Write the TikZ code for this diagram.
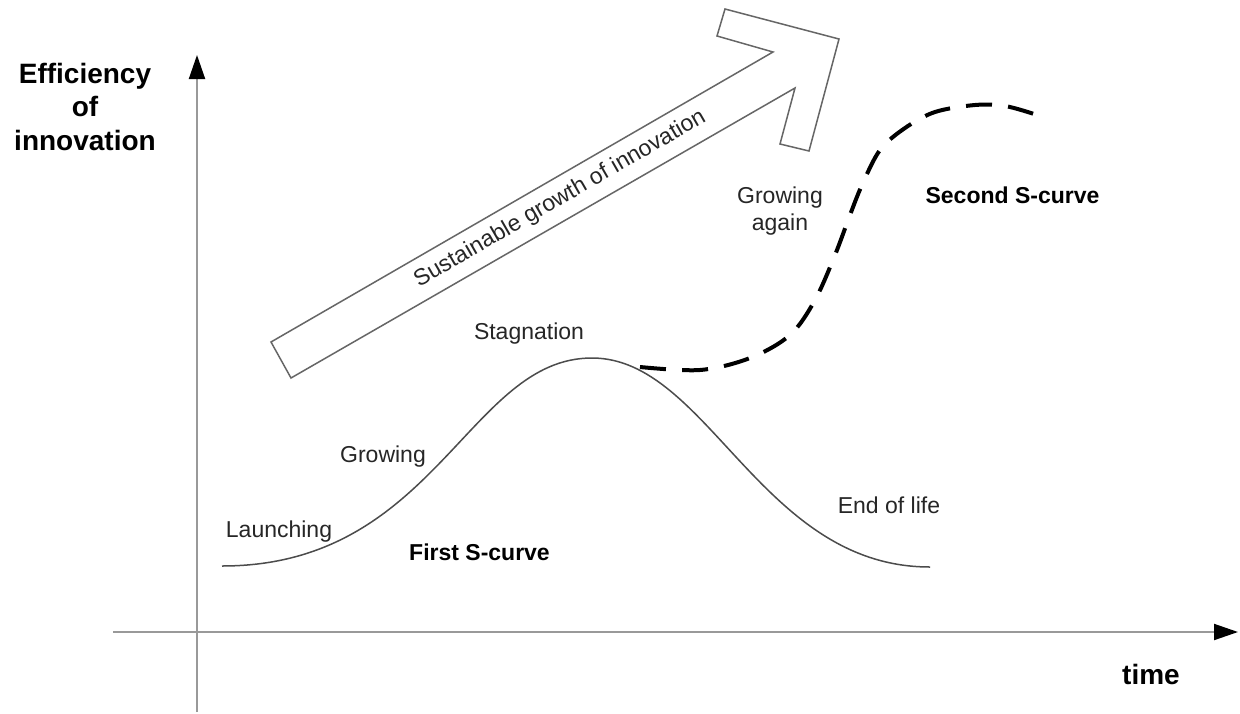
\documentclass[tikz,border=0pt]{standalone}
\usepackage{fontspec}
\setmainfont{Liberation Sans}
\usetikzlibrary{arrows.meta}
\begin{document}
\begin{tikzpicture}[x=1pt,y=-1pt,
  lbl/.style={inner sep=0pt, font=\fontsize{23}{27}\selectfont, text=black!85},
  blbl/.style={inner sep=0pt, font=\fontsize{23}{27}\selectfont\bfseries, text=black},
  axlbl/.style={inner sep=0pt, font=\fontsize{28}{33.5}\selectfont\bfseries, text=black},
  axisline/.style={draw=black!40, line width=2pt, -{Triangle[length=24pt,width=16pt,color=black]}},
  bigarrow/.style={draw=black!60, line width=1.5pt, line join=miter, fill=white},
  firstcurve/.style={draw=black!70, line width=1.5pt},
  secondcurve/.style={draw=black, line width=4pt, dash pattern=on 26pt off 16.2pt}
]
\useasboundingbox (0,0) rectangle (1240,713);
\fill[white] (0,0) rectangle (1240,713);

% axes
\coordinate (ybot) at (197,712);
\coordinate (ytop) at (197,55);
\coordinate (xleft) at (113,632);
\coordinate (xright) at (1238,632);
\draw[axisline] (ybot) -- (ytop);
\draw[axisline] (xleft) -- (xright);

% big arrow
\draw[bigarrow] (271,342) -- (773,52) -- (717,36) -- (725,9) -- (839,39) -- (809,151) -- (780,144) -- (795,88) -- (291,378) -- cycle;
\node[lbl, rotate=30] (sust) at (560,199) {Sustainable growth of innovation};

% first S-curve
\coordinate (c1start) at (222,566);
\coordinate (c1peak) at (592,358);
\coordinate (c1end) at (930,567);
\draw[firstcurve] (c1start) .. controls (436,566) and (468,358) .. (c1peak)
  .. controls (708,358) and (761,567) .. (c1end);

% second S-curve
\draw[secondcurve] plot[smooth, tension=0.55] coordinates {
 (640,367) (700,370) (750,358) (790,335) (815,300) (835,255) (850,215)
 (862,185) (880,150) (905,128) (935,112) (975,105) (1005,106) (1034,114)};

% labels
\node[axlbl, align=center, anchor=base] (eff) at (85,150) {Efficiency\\of\\innovation};
\node[axlbl, anchor=base] (time) at (1151,684) {time};
\node[lbl, anchor=base] (stag) at (529,339) {Stagnation};
\node[lbl, anchor=base] (grow) at (383,462) {Growing};
\node[lbl, anchor=base] (launch) at (279,537) {Launching};
\node[blbl, anchor=base] (first) at (479.5,560) {First S-curve};
\node[lbl, anchor=base] (end) at (889,513) {End of life};
\node[lbl, align=center, anchor=base] (again) at (780,230) {Growing\\again};
\node[blbl, anchor=base] (second) at (1012.5,203) {Second S-curve};
\end{tikzpicture}
\end{document}
